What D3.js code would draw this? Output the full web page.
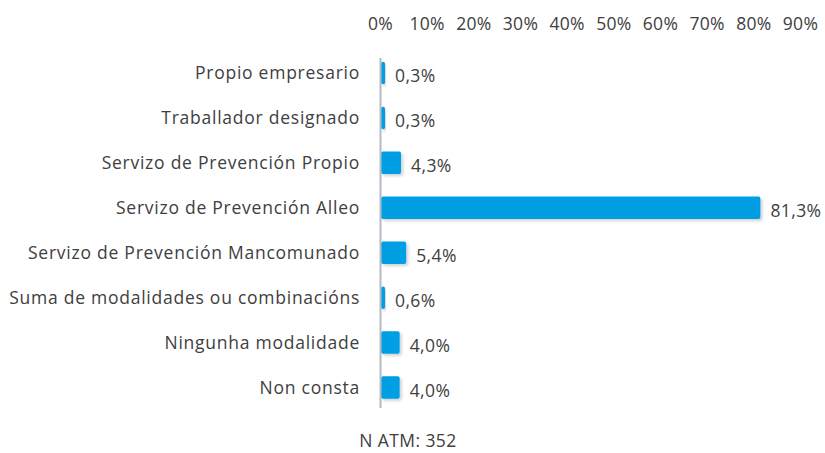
<!DOCTYPE html>
<html>
<head>
<meta charset="utf-8">
<script src="https://cdn.jsdelivr.net/npm/d3@7"></script>
<style>
  body { margin: 0; background: #fff; }
  text { font-family: "Open Sans", "DejaVu Sans", sans-serif; fill: #404040; }
  .axis .domain { display: none; }
</style>
</head>
<body>
<svg id="chart" width="825" height="453"></svg>
<script>
const categories = [
  "Propio empresario",
  "Traballador designado",
  "Servizo de Prevención Propio",
  "Servizo de Prevención Alleo",
  "Servizo de Prevención Mancomunado",
  "Suma de modalidades ou combinacións",
  "Ningunha modalidade",
  "Non consta"
];
const values = [0.3, 0.3, 4.3, 81.3, 5.4, 0.6, 4.0, 4.0];
const tickValues = [0, 10, 20, 30, 40, 50, 60, 70, 80, 90];
const footnote = "N ATM: 352";

const svg = d3.select("#chart");
const margin = { left: 380, right: 25, top: 50, bottom: 43 };
const width = 825, height = 453;

const x = d3.scaleLinear().domain([0, 90]).range([margin.left, margin.left + 420]);
const y = d3.scaleBand().domain(categories).range([margin.top + 0.5, height - margin.bottom]).paddingInner(0.5).paddingOuter(0.25);

const defs = svg.append("defs");
const f = defs.append("filter").attr("id", "shadow").attr("x", "-10%").attr("y", "-30%").attr("width", "130%").attr("height", "180%");
f.append("feDropShadow").attr("dx", 2).attr("dy", 2).attr("stdDeviation", 1.5).attr("flood-color", "#000").attr("flood-opacity", 0.18);

// top axis
const xAxis = d3.axisTop(x).tickValues(tickValues).tickSize(0).tickPadding(0).tickFormat(d => d + "%");
svg.append("g").attr("class", "axis")
  .attr("transform", "translate(0,30)")
  .call(xAxis)
  .selectAll("text").style("font-size", "17.5px").style("letter-spacing", "0.3px").attr("dy", 0);

// bars
svg.append("g").selectAll("rect")
  .data(values)
  .enter().append("rect")
  .attr("x", x(0) + 1)
  .attr("y", (d, i) => y(categories[i]))
  .attr("width", d => Math.max(x(d) - x(0), 4))
  .attr("height", y.bandwidth())
  .attr("rx", 2)
  .attr("fill", "#009fe3")
  .attr("filter", "url(#shadow)");

// vertical axis line
svg.append("line")
  .attr("x1", x(0) + 0.5).attr("x2", x(0) + 0.5)
  .attr("y1", 58).attr("y2", 408)
  .attr("stroke", "#b4bac4").attr("stroke-width", 2);

// category labels
svg.append("g").selectAll("text")
  .data(categories)
  .enter().append("text")
  .attr("x", 360)
  .attr("y", d => y(d) + y.bandwidth() / 2)
  .attr("dy", "0.35em")
  .attr("text-anchor", "end")
  .style("font-size", "17.5px")
  .style("letter-spacing", "0.75px")
  .text(d => d);

// value labels
svg.append("g").selectAll("text")
  .data(values)
  .enter().append("text")
  .attr("x", d => x(0) + Math.max(x(d) - x(0), 4) + 11)
  .attr("y", (d, i) => y(categories[i]) + y.bandwidth() / 2 + 3)
  .attr("dy", "0.35em")
  .style("font-size", "17.5px")
  .style("letter-spacing", "0.4px")
  .text(d => d.toFixed(1).replace(".", ",") + "%");

svg.append("text")
  .attr("x", 408).attr("y", 447)
  .attr("text-anchor", "middle")
  .style("font-size", "17.5px")
  .style("letter-spacing", "0.4px")
  .text(footnote);
</script>
</body>
</html>
